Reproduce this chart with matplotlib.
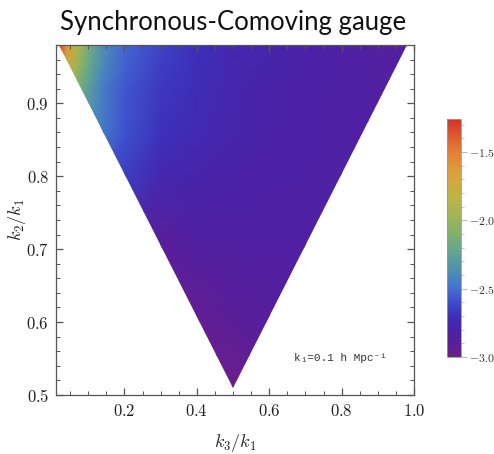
import numpy as np
import matplotlib
matplotlib.use('Agg')
import matplotlib.pyplot as plt
from matplotlib.colors import LinearSegmentedColormap
from matplotlib.patches import Polygon
from matplotlib.ticker import MultipleLocator

plt.rcParams['mathtext.fontset'] = 'cm'

# ---------------- data ----------------
title = 'Synchronous-Comoving gauge'
xlabel = r'$k_3/k_1$'
ylabel = r'$k_2/k_1$'
note = 'k\u2081=0.1 h Mpc\u207b\u00b9'

# sample grid (k3/k1 columns, k2/k1 rows) with values
grid_x = [0.02, 0.04, 0.07, 0.10, 0.14, 0.20, 0.30, 0.40, 0.50, 0.60, 0.70, 0.80, 0.90, 0.98]
grid_y = [0.50, 0.60, 0.70, 0.80, 0.86, 0.92, 0.95, 0.98]
vals_y050 = [-3.0, -3.0, -3.0, -3.0, -3.0, -3.0, -3.0, -3.0, -3.0, -2.95, -2.9, -2.9, -2.9, -2.9]
vals_y060 = [-3.0, -3.0, -3.0, -3.0, -3.0, -3.0, -2.98, -2.95, -2.9, -2.87, -2.86, -2.86, -2.86, -2.86]
vals_y070 = [-2.9, -2.9, -2.9, -2.9, -2.9, -2.9, -2.9, -2.85, -2.84, -2.84, -2.84, -2.84, -2.84, -2.84]
vals_y080 = [-2.4, -2.45, -2.5, -2.55, -2.6, -2.65, -2.75, -2.78, -2.8, -2.81, -2.82, -2.83, -2.84, -2.85]
vals_y086 = [-2.15, -2.2, -2.3, -2.38, -2.46, -2.58, -2.69, -2.74, -2.77, -2.8, -2.81, -2.83, -2.84, -2.85]
vals_y092 = [-1.8, -1.95, -2.12, -2.27, -2.45, -2.57, -2.67, -2.72, -2.76, -2.79, -2.81, -2.83, -2.85, -2.87]
vals_y095 = [-1.5, -1.75, -2.0, -2.2, -2.4, -2.54, -2.65, -2.71, -2.75, -2.78, -2.8, -2.83, -2.85, -2.87]
vals_y098 = [-1.28, -1.6, -1.9, -2.15, -2.37, -2.52, -2.63, -2.7, -2.75, -2.78, -2.8, -2.83, -2.85, -2.87]

# triangular domain (k3<=k2<=k1, k2+k3>=k1, k2/k1<=0.98)
domain_x = [0.02, 0.98, 0.50]
domain_y = [0.98, 0.98, 0.51]

xticks = [0.2, 0.4, 0.6, 0.8, 1.0]
yticks = [0.5, 0.6, 0.7, 0.8, 0.9]
cbar_ticks = [-3.0, -2.5, -2.0, -1.5]
vmin, vmax = -3.0, -1.26
xlim = (0.011, 1.0)
ylim = (0.5, 0.98)

cmap_colors = ['#6E1E8A', '#5A1E9A', '#4A22A8', '#3C30B8', '#3E4CCC', '#4470D2',
               '#4A8AB8', '#579BA2', '#68A888', '#80B06A', '#A6B652', '#C4B240',
               '#DDA03A', '#E58032', '#E05A2E', '#D6302A']
cmap_pos = [0.0, 0.0575, 0.115, 0.172, 0.23, 0.287, 0.345, 0.402, 0.46, 0.517,
            0.603, 0.69, 0.776, 0.862, 0.931, 1.0]

# ---------------- plot ----------------
cmap = LinearSegmentedColormap.from_list('rainbow_m', list(zip(cmap_pos, cmap_colors)))
Z = np.array([vals_y050, vals_y060, vals_y070, vals_y080, vals_y086,
              vals_y092, vals_y095, vals_y098])
X, Y = np.meshgrid(grid_x, grid_y)

fig = plt.figure(figsize=(4.94, 4.54), dpi=100)
ax = fig.add_axes([0.1134, 0.1300, 0.7247, 0.7709])
mesh = ax.pcolormesh(X, Y, Z, shading='gouraud', cmap=cmap, vmin=vmin, vmax=vmax)
tri = Polygon(np.column_stack([domain_x, domain_y]), closed=True,
              transform=ax.transData, facecolor='none', edgecolor='none')
ax.add_patch(tri)
mesh.set_clip_path(tri)

ax.set_xlim(*xlim)
ax.set_ylim(*ylim)
ax.set_xticks(xticks)
ax.set_xticklabels([f'${v:.1f}$' for v in xticks])
ax.set_yticks(yticks)
ax.set_yticklabels([f'${v:.1f}$' for v in yticks])
ax.xaxis.set_minor_locator(MultipleLocator(0.05))
ax.yaxis.set_minor_locator(MultipleLocator(0.02))
frame_col = '#555555'
ax.tick_params(which='both', direction='in', top=True, right=True, color=frame_col,
               labelsize=12, labelcolor='#222222', pad=5)
ax.tick_params(which='major', length=5, width=0.9)
ax.tick_params(which='minor', length=3, width=0.7)
for s in ax.spines.values():
    s.set_color(frame_col)
    s.set_linewidth(0.9)

ax.set_xlabel(xlabel, fontsize=13, color='#222222')
ax.set_ylabel(ylabel, fontsize=13, color='#222222')
ax.xaxis.set_label_coords(0.5, -0.105)
ax.yaxis.set_label_coords(-0.078, 0.5)

ax.text(0.665, 0.105, note, transform=ax.transAxes, fontsize=8, va='center',
        family=['Liberation Mono', 'DejaVu Sans Mono'], color='#333333')

fig.text(0.121, 0.950, title, fontsize=18.5, family=['Lato', 'DejaVu Sans'],
         va='center', ha='left', color='#111111')

cax = fig.add_axes([0.905, 0.2137, 0.0283, 0.524])
cb = fig.colorbar(mesh, cax=cax)
cb.set_ticks(cbar_ticks)
cb.set_ticklabels([f'${v:.1f}$' for v in cbar_ticks])
cb.ax.yaxis.set_minor_locator(MultipleLocator(0.1))
cb.ax.tick_params(which='both', color='#bbbbbb', labelsize=8.5, labelcolor='#333333', pad=2)
cb.ax.tick_params(which='major', length=4)
cb.ax.tick_params(which='minor', length=2)
cb.outline.set_edgecolor('#999999')
cb.outline.set_linewidth(0.6)

fig.savefig('out.png', dpi=100)
